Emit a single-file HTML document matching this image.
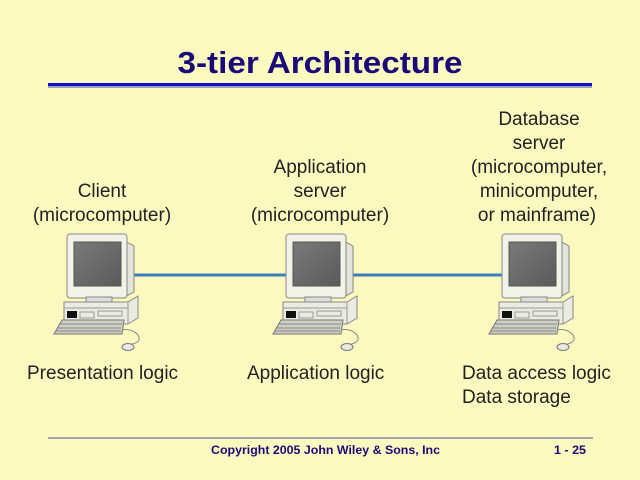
<!DOCTYPE html>
<html><head><meta charset="utf-8"><style>
html,body{margin:0;padding:0;background:#FCF9C0;}
svg{display:block}
</style></head><body>
<svg width="640" height="480" xmlns="http://www.w3.org/2000/svg">
<defs>
<linearGradient id="scr" x1="0" y1="0" x2="1" y2="1"><stop offset="0" stop-color="#7a7a7a"/><stop offset="1" stop-color="#5a5a5a"/></linearGradient>
<g id="pc">
 <path d="M123,240 L134,246 L134,292 L123,298 Z" fill="#e4e4d8" stroke="#888" stroke-width="1"/>
 <rect x="67" y="234" width="60" height="64" rx="3" fill="#f2f2e6" stroke="#888"/>
 <rect x="74" y="242" width="47" height="44" fill="url(#scr)" stroke="#555"/>
 <rect x="86" y="297" width="26" height="5" fill="#ddd" stroke="#888"/>
 <path d="M64,302 L128,302 L138,296 L138,318 L128,324 L64,324 Z" fill="#ebebdf" stroke="#888"/>
 <line x1="64" y1="308" x2="128" y2="308" stroke="#999"/>
 <line x1="128" y1="302" x2="128" y2="324" stroke="#999"/>
 <rect x="67" y="311" width="10" height="7" fill="#111"/>
 <rect x="80" y="312" width="14" height="6" fill="none" stroke="#999"/>
 <rect x="98" y="311" width="24" height="5" fill="none" stroke="#999"/>
 <path d="M62,320 L124,320 L122,334 L54,334 Z" fill="#cfcfc4" stroke="#777"/>
 <path d="M60,324 L122,324 M58,328 L121,328 M56,331 L121,331" stroke="#888" stroke-width="1"/>
 <path d="M122,330 Q132,328 138,335 Q142,342 132,344" fill="none" stroke="#888"/>
 <ellipse cx="128" cy="347" rx="6" ry="3.5" fill="#e8e8e0" stroke="#777"/>
</g>
</defs>
<text x="320" y="73" text-anchor="middle" font-family="Liberation Sans, sans-serif" font-weight="bold" font-size="31" fill="#1a0a78" textLength="285" lengthAdjust="spacingAndGlyphs">3-tier Architecture</text>
<rect x="48" y="83" width="544" height="3" fill="#1010c8"/>
<rect x="48" y="86" width="544" height="2" fill="#a0a0b8"/>
<line x1="130" y1="275" x2="290" y2="275" stroke="#3a80b8" stroke-width="3"/>
<line x1="348" y1="275" x2="505" y2="275" stroke="#3a80b8" stroke-width="3"/>
<use href="#pc"/>
<use href="#pc" transform="translate(219,0)"/>
<use href="#pc" transform="translate(435,0)"/>
<g font-family="Liberation Sans, sans-serif" font-size="19" fill="#222" text-anchor="middle">
<text x="102" y="197">Client</text>
<text x="102" y="221">(microcomputer)</text>
<text x="320" y="173">Application</text>
<text x="320" y="197">server</text>
<text x="320" y="221">(microcomputer)</text>
<text x="539" y="125">Database</text>
<text x="539" y="149">server</text>
<text x="539" y="173">(microcomputer,</text>
<text x="539" y="197">minicomputer,</text>
<text x="537" y="221">or mainframe)</text>
</g>
<g font-family="Liberation Sans, sans-serif" font-size="19" fill="#222">
<text x="27" y="379">Presentation logic</text>
<text x="247" y="379">Application logic</text>
<text x="462" y="379">Data access logic</text>
<text x="462" y="403">Data storage</text>
</g>
<line x1="48" y1="438" x2="593" y2="438" stroke="#5050a0" stroke-width="1"/>
<text x="211" y="454" font-family="Liberation Sans, sans-serif" font-weight="bold" font-size="12" fill="#1a0a78" textLength="229" lengthAdjust="spacingAndGlyphs">Copyright 2005 John Wiley &amp; Sons, Inc</text>
<text x="554" y="454" font-family="Liberation Sans, sans-serif" font-weight="bold" font-size="12" fill="#1a0a78" textLength="32" lengthAdjust="spacingAndGlyphs">1 - 25</text>
</svg>
</body></html>
